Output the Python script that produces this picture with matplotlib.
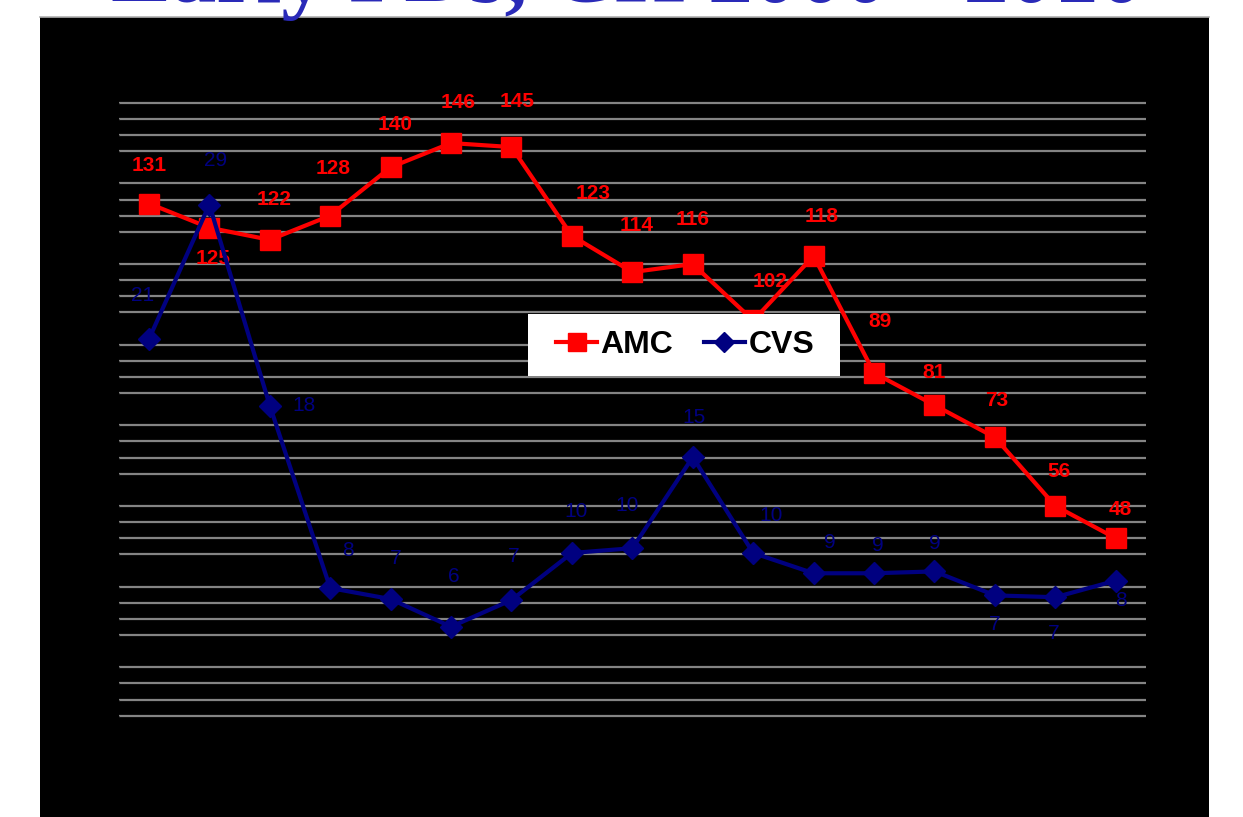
import matplotlib
matplotlib.use("Agg")
import matplotlib.pyplot as plt
from matplotlib.patches import Rectangle
from matplotlib.ticker import MultipleLocator

# ---------- DATA ---------- #
years = list(range(1994, 2011))
amc = [131, 125, 122, 128, 140, 146, 145, 123, 114, 116, 102, 118, 89, 81, 73, 56, 48]
cvs = [21.3, 28.6, 17.7, 7.8, 7.2, 5.7, 7.15, 9.7, 9.96, 14.9, 9.7, 8.6, 8.6, 8.7, 7.4, 7.3, 8.2]
series_names = ["AMC", "CVS"]
title = "Early PDs, CH 2000 - 2010"

# label offsets from the marker, in pixels (dx, dy up)
amc_off = [(0, 38), (4, -31), (4, 40), (3, 47), (4, 43), (7, 41), (6, 46), (21, 42), (4, 47),
           (0, 45), (17, 39), (8, 39), (6, 51), (0, 33), (2, 37), (4, 34), (4, 29)]
cvs_off = [(-6, 44), (6, 44), (34, 0), (18, 38), (5, 41), (3, 50), (2, 43), (4, 41), (-5, 43),
           (1, 40), (18, 37), (16, 31), (4, 28), (0, 28), (0, -29), (-2, -36), (5, -20)]

RED = "#ff0000"
NAVY = "#000080"
PX = 0.72  # points per pixel at dpi 100
W, H = 1243, 817

plt.rcParams['font.family'] = ['Liberation Sans', 'DejaVu Sans']

fig = plt.figure(figsize=(12.43, 8.17), dpi=100)
fig.patch.set_facecolor("white")

# black panel behind everything
bg = fig.add_axes([40 / W, 0, 1169 / W, 800 / H], zorder=-5)
bg.set_facecolor("black")
bg.set_xticks([])
bg.set_yticks([])
for s in bg.spines.values():
    s.set_visible(False)
bg.spines["top"].set_visible(True)
bg.spines["top"].set_color("#b0b0b0")
bg.spines["top"].set_linewidth(1.2)

# title (cut off at the top like the slide)
fig.text(0.505, 0.9976, title, ha="center", va="baseline", fontsize=65, color="#2a2ab8",
         family=["Liberation Serif", "DejaVu Serif"], fontweight="bold")

ax = fig.add_axes([118.7 / W, 85.2 / H, 1027.3 / W, 645.2 / H])
ax.set_facecolor("none")
x = list(range(len(years)))
ax.set_xlim(-0.5, len(years) - 0.5)
ax.set_ylim(0, 160)
ax.yaxis.set_major_locator(MultipleLocator(20))
ax.yaxis.set_minor_locator(MultipleLocator(4))
ax.grid(which="minor", axis="y", color="#848484", lw=1.6)
ax.set_axisbelow(True)
ax.tick_params(which="both", left=False, bottom=False, labelleft=False, labelbottom=False)
for s in ax.spines.values():
    s.set_visible(False)

l1, = ax.plot(x, amc, color=RED, lw=3, marker="s", markersize=14, label=series_names[0], zorder=3)
for i, v in enumerate(amc):
    ax.annotate(f"{v:.0f}", (x[i], v), xytext=(amc_off[i][0] * PX, amc_off[i][1] * PX),
                textcoords="offset points", ha="center", va="center", fontsize=15,
                fontweight="bold", color=RED)

ax2 = ax.twinx()
ax2.set_ylim(0, 35)
ax2.set_axis_off()
l2, = ax2.plot(x, cvs, color=NAVY, lw=3, marker="D", markersize=11, label=series_names[1], zorder=3)
for i, v in enumerate(cvs):
    ax2.annotate(f"{v:.0f}", (x[i], v), xytext=(cvs_off[i][0] * PX, cvs_off[i][1] * PX),
                 textcoords="offset points", ha="center", va="center", fontsize=15, color=NAVY)

# legend: white box + entries
box = Rectangle((528 / W, 1 - 376 / H), 312 / W, 62 / H, transform=fig.transFigure,
                facecolor="white", edgecolor="none", zorder=9)
ax2.add_artist(box)
box.set_clip_on(False)
leg = ax2.legend(handles=[l1, l2], loc="center", bbox_to_anchor=(685 / W, 1 - 345 / H),
                 bbox_transform=fig.transFigure, ncol=2, frameon=False,
                 prop={"size": 23, "weight": "bold"}, handlelength=1.3, handletextpad=0.1,
                 columnspacing=0.95, borderpad=0, borderaxespad=0, markerscale=0.9)
leg.set_zorder(10)

fig.savefig("out.png", dpi=100, facecolor="white")
